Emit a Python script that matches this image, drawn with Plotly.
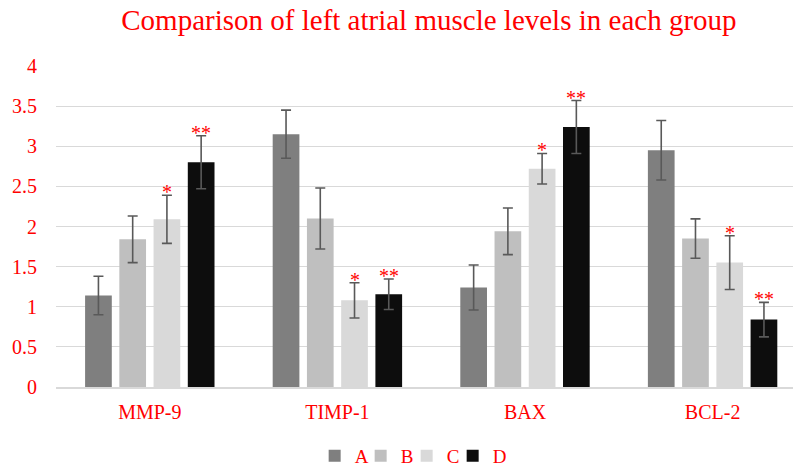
import plotly.graph_objects as go

categories = ["MMP-9", "TIMP-1", "BAX", "BCL-2"]
groups = ["A", "B", "C", "D"]
colors = ["#7f7f7f", "#bfbfbf", "#d9d9d9", "#0d0d0d"]

values_A = [1.14, 3.15, 1.24, 2.95]
values_B = [1.84, 2.10, 1.94, 1.85]
values_C = [2.09, 1.08, 2.72, 1.55]
values_D = [2.80, 1.155, 3.24, 0.84]

err_A = [0.24, 0.30, 0.28, 0.37]
err_B = [0.29, 0.38, 0.29, 0.245]
err_C = [0.30, 0.22, 0.19, 0.335]
err_D = [0.33, 0.19, 0.33, 0.215]

sig_C = ["*", "*", "*", "*"]
sig_D = ["**", "**", "**", "**"]

series_values = [values_A, values_B, values_C, values_D]
series_errors = [err_A, err_B, err_C, err_D]

FONT = "Liberation Serif, Times New Roman, serif"
RED = "#ff0000"

BARGAP = 0.27
BARGROUPGAP = 0.22

fig = go.Figure()
for g, col, vals, errs in zip(groups, colors, series_values, series_errors):
    fig.add_trace(go.Bar(
        name=g, x=categories, y=vals,
        marker=dict(color=col, line=dict(width=0)),
        error_y=dict(type="data", array=errs, visible=True,
                     color="#595959", thickness=1.6, width=5),
    ))

# invisible spacer legend entry so the last legend label is not clipped
fig.add_trace(go.Scatter(
    x=[None], y=[None], mode="markers", name=" ",
    marker=dict(color="rgba(0,0,0,0)", size=1), hoverinfo="skip",
))

# significance marks above the error bars of groups C and D
slot = (1 - BARGAP) / len(groups)
for j, (marks, vals, errs) in [(2, (sig_C, values_C, err_C)), (3, (sig_D, values_D, err_D))]:
    for i, (m, v, e) in enumerate(zip(marks, vals, errs)):
        fig.add_annotation(
            x=i + (j - 1.5) * slot, y=v + e, xref="x", yref="y",
            text=m, showarrow=False, yanchor="middle", yshift=3,
            font=dict(family=FONT, size=20, color=RED),
        )

fig.update_layout(
    width=793, height=466,
    margin=dict(l=56, r=0, t=66, b=79, autoexpand=False),
    paper_bgcolor="white", plot_bgcolor="white",
    barmode="group", bargap=BARGAP, bargroupgap=BARGROUPGAP,
    title=dict(text="Comparison of left atrial muscle levels in each group",
               x=0.506, xref="paper", xanchor="center",
               y=0.957, yref="container", yanchor="middle",
               font=dict(family=FONT, size=29, color=RED)),
    font=dict(family=FONT, color=RED),
    showlegend=True,
    legend=dict(orientation="h", x=0.507, xanchor="center", y=-0.215, yanchor="middle",
                font=dict(family=FONT, size=19, color=RED),
                entrywidth=1, entrywidthmode="pixels", itemclick=False),
)
fig.update_xaxes(
    type="category", range=[-0.5, 3.4286],
    showline=True, linecolor="#d9d9d9", linewidth=1.5,
    showgrid=False, ticks="", ticklabelstandoff=6,
    tickfont=dict(family=FONT, size=20, color=RED),
)
fig.update_yaxes(
    range=[0, 4], dtick=0.5, tick0=0,
    showgrid=True, gridcolor="#d9d9d9", gridwidth=1.3,
    zeroline=False, showline=False, ticks="", ticklabelstandoff=18,
    tickfont=dict(family=FONT, size=20, color=RED),
)

fig.write_html("out.html")
